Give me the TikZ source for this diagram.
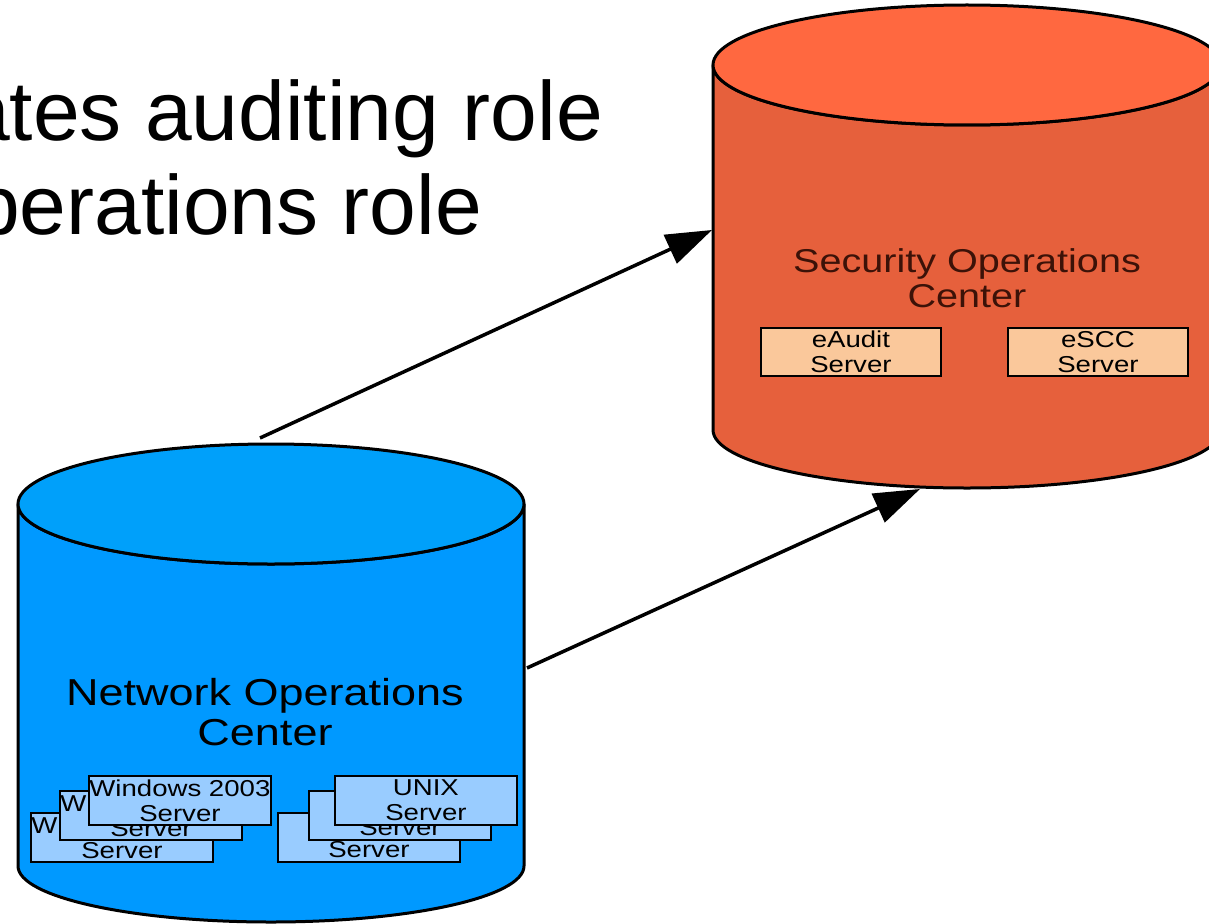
\documentclass[tikz,border=0pt]{standalone}
\usepackage{fontspec}
\setmainfont{Liberation Sans}
\newfontfamily\labelfont[FakeStretch=1.2]{Liberation Sans}
\usetikzlibrary{arrows.meta}

\definecolor{nocbody}{RGB}{0,153,255}
\definecolor{noctop}{RGB}{0,160,250}
\definecolor{socbody}{RGB}{230,96,60}
\definecolor{soctop}{RGB}{255,104,64}
\definecolor{srvblue}{RGB}{153,204,255}
\definecolor{srvpeach}{RGB}{250,200,155}
\definecolor{soctext}{RGB}{60,18,8}

\begin{document}
\begin{tikzpicture}[x=1pt,y=-1pt,
  rim/.style={draw=black,line width=3pt,line join=round},
  headline/.style={anchor=base west,inner sep=0pt,font=\fontsize{84}{95}\selectfont},
  srv/.style={draw=black,line width=1.8pt,fill=srvblue,minimum width=182pt,
    minimum height=49pt,inner sep=0pt,anchor=north west,align=center,
    font=\labelfont\fontsize{23}{25}\selectfont,text=black},
  appliance/.style={srv,fill=srvpeach,minimum width=180pt,minimum height=48pt},
  link/.style={line width=3.5pt,-{Triangle[length=46pt,width=31pt]}},
]
\useasboundingbox (0,0) rectangle (1209,923);
\clip (0,0) rectangle (1209,923);

% slide text
\node[headline] (line1) at (-37,140) {ates auditing role};
\node[headline] (line2) at (-27,234) {perations role};

% network operations center cylinder
\path[rim,fill=nocbody] (18,504) -- (18,866)
  arc[start angle=180,end angle=0,x radius=253,y radius=56] -- (524,504)
  arc[start angle=0,end angle=180,x radius=253,y radius=60] -- cycle;
\draw[rim,fill=noctop] (271,504) ellipse[x radius=253,y radius=60];

% security operations center cylinder
\path[rim,fill=socbody] (713,65) -- (713,430)
  arc[start angle=180,end angle=0,x radius=254,y radius=58] -- (1221,65)
  arc[start angle=0,end angle=180,x radius=254,y radius=60] -- cycle;
\draw[rim,fill=soctop] (967,65) ellipse[x radius=254,y radius=60];

% labels
\node[font=\labelfont\fontsize{33}{35}\selectfont,text=soctext,align=center]
  (soc) at (967,278) {Security Operations\\Center};
\node[font=\labelfont\fontsize{37.5}{39.5}\selectfont,text=black,align=center]
  (noc) at (265,712) {Network Operations\\Center};

% servers in the SOC
\node[appliance] (eaudit) at (760,327) {eAudit\\Server};
\node[appliance] (escc) at (1007,327) {eSCC\\Server};

% server stacks in the NOC, back to front
\node[srv] (w3) at (30,812) {Windows 2003\\Server};
\node[srv] (w2) at (59,790) {Windows 2003\\Server};
\node[srv] (w1) at (88,775) {Windows 2003\\Server};
\node[srv] (u3) at (277,812) {UNIX\\Server};
\node[srv] (u2) at (308,790) {UNIX\\Server};
\node[srv] (u1) at (334,775) {UNIX\\Server};

% connectors
\coordinate (noc-top) at (260,438);
\coordinate (soc-side) at (712,230);
\coordinate (noc-side) at (527,668);
\coordinate (soc-bottom) at (920,489);
\draw[link] (noc-top) -- (soc-side);
\draw[link] (noc-side) -- (soc-bottom);
\end{tikzpicture}
\end{document}
